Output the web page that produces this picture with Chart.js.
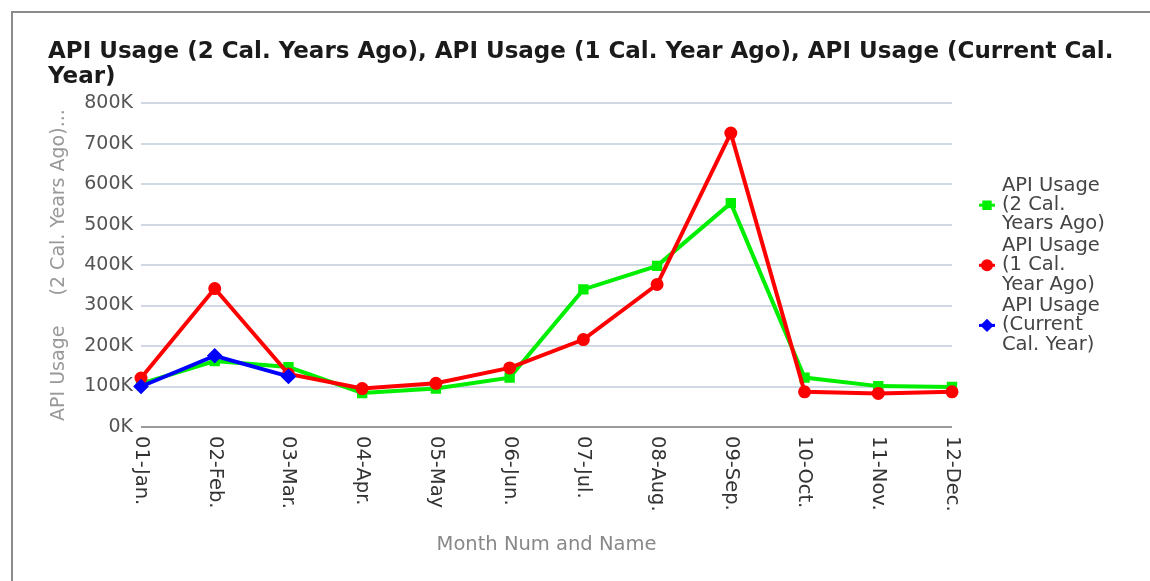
<!DOCTYPE html>
<html>
<head>
<meta charset="utf-8">
<title>API Usage</title>
<script src="https://cdn.jsdelivr.net/npm/chart.js@4.4.1/dist/chart.umd.min.js"></script>
<style>
  html, body { margin: 0; padding: 0; background: #fff; overflow: hidden; }
  #frame { position: absolute; left: 11px; top: 11px; width: 1200px; height: 640px; border: 2px solid #8c8c8c; }
  #wrap { position: absolute; left: 0; top: 0; width: 1150px; height: 581px; }
</style>
</head>
<body>
<div id="frame"></div>
<div id="wrap"><canvas id="chart"></canvas></div>
<script>
  // Data
  const months = ["01-Jan.", "02-Feb.", "03-Mar.", "04-Apr.", "05-May", "06-Jun.",
                  "07-Jul.", "08-Aug.", "09-Sep.", "10-Oct.", "11-Nov.", "12-Dec."];
  const usage2YearsAgo = [107000, 163000, 148000, 84000, 95000, 122000,
                          340000, 398000, 553000, 122000, 101000, 99000];
  const usage1YearAgo = [121000, 342000, 131000, 95000, 108000, 146000,
                         216000, 352000, 726000, 87000, 83000, 87000];
  const usageCurrent = [100000, 176000, 125000, null, null, null,
                        null, null, null, null, null, null];
  const yTicks = [0, 100000, 200000, 300000, 400000, 500000, 600000, 700000, 800000];

  const FONT = "'DejaVu Sans', sans-serif";

  // x labels read top to bottom (rotated clockwise), drawn under each tick
  const xLabelsPlugin = {
    id: "xLabels",
    afterDraw(chart) {
      const ctx = chart.ctx, xs = chart.scales.x;
      ctx.save();
      ctx.font = "19.5px " + FONT;
      ctx.fillStyle = "#333";
      ctx.textAlign = "left";
      ctx.textBaseline = "middle";
      months.forEach((m, i) => {
        ctx.save();
        ctx.translate(xs.getPixelForValue(i), chart.chartArea.bottom + 9);
        ctx.rotate(Math.PI / 2);
        ctx.fillText(m, 0, 0);
        ctx.restore();
      });
      ctx.restore();
    }
  };

  // Legend on the right with wrapped labels
  const sideLegend = {
    id: "sideLegend",
    afterDraw(chart) {
      const ctx = chart.ctx;
      const lineH = 19.2, maxW = 106, markX = 987, textX = 1002;
      let y = 186;
      ctx.save();
      ctx.font = "19.5px " + FONT;
      ctx.textBaseline = "middle";
      ctx.textAlign = "left";
      chart.data.datasets.forEach(ds => {
        const words = ds.label.split(" ");
        const lines = [];
        let cur = "";
        words.forEach(w => {
          const t = cur ? cur + " " + w : w;
          if (cur && ctx.measureText(t).width > maxW) { lines.push(cur); cur = w; }
          else cur = t;
        });
        if (cur) lines.push(cur);
        const midY = y + (lines.length - 1) * lineH / 2;
        ctx.strokeStyle = ds.borderColor;
        ctx.lineWidth = 3;
        ctx.beginPath();
        ctx.moveTo(markX - 8, midY);
        ctx.lineTo(markX + 8, midY);
        ctx.stroke();
        Chart.helpers.drawPoint(ctx, {
          pointStyle: ds.pointStyle, radius: 4.5, borderWidth: 1, rotation: 0
        }, markX, midY);
        ctx.fillStyle = ds.borderColor;
        ctx.fill();
        ctx.fillStyle = "#444";
        lines.forEach((l, i) => ctx.fillText(l, textX, y + i * lineH));
        y += lines.length * lineH + 2.5;
      });
      ctx.restore();
    }
  };

  const mk = (label, data, color, style, order) => ({
    label, data, order,
    borderColor: color, backgroundColor: color,
    pointBackgroundColor: color, pointBorderColor: color,
    borderWidth: 4, pointStyle: style, pointRadius: style === "rectRot" ? 5 : 4.5,
    pointHoverRadius: 5, tension: 0, spanGaps: false
  });

  new Chart(document.getElementById("chart").getContext("2d"), {
    type: "line",
    data: {
      labels: months,
      datasets: [
        mk("API Usage (2 Cal. Years Ago)", usage2YearsAgo, "#00ee00", "rect", 2),
        mk("API Usage (1 Cal. Year Ago)", usage1YearAgo, "#ff0000", "circle", 1),
        mk("API Usage (Current Cal. Year)", usageCurrent, "#0000ff", "rectRot", 0)
      ]
    },
    options: {
      responsive: true,
      maintainAspectRatio: false,
      animation: false,
      layout: { padding: { left: 48, right: 20, top: 0, bottom: 24 } },
      plugins: {
        legend: { display: false },
        tooltip: { enabled: false },
        title: {
          display: true,
          align: "start",
          text: ["API Usage (2 Cal. Years Ago), API Usage (1 Cal. Year Ago), API Usage (Current Cal.", "Year)"],
          color: "#1a1a1a",
          font: { family: FONT, size: 23, weight: "bold", lineHeight: 1.09 },
          padding: { top: 39, bottom: 14 }
        }
      },
      scales: {
        x: {
          offset: false,
          grid: { display: false },
          border: { display: false },
          ticks: { display: false },
          title: {
            display: true, text: "Month Num and Name", color: "#888",
            font: { family: FONT, size: 19.5 }, padding: { top: 0, bottom: 0 }
          },
          afterFit(scale) { scale.height = 130; }
        },
        y: {
          min: 0, max: 800000,
          afterBuildTicks(scale) { scale.ticks = yTicks.map(v => ({ value: v })); },
          grid: {
            drawTicks: false,
            color: ctx => ctx.index === 0 ? "#9a9a9a" : "#cfd8e3",
            lineWidth: 2
          },
          border: { display: false },
          ticks: {
            padding: 8, color: "#555",
            font: { family: FONT, size: 19 },
            callback: v => (v / 1000) + "K"
          },
          title: {
            display: true, text: "API Usage     (2 Cal. Years Ago)...", color: "#999",
            font: { family: FONT, size: 19 }, padding: { top: 0, bottom: 0 }
          },
          afterFit(scale) { scale.width = 93; }
        },
        // empty right-hand axis that keeps room for the legend
        yRoom: {
          position: "right",
          min: 0, max: 800000,
          grid: { display: false },
          border: { display: false },
          ticks: { display: false },
          afterFit(scale) { scale.width = 178; }
        }
      }
    },
    plugins: [xLabelsPlugin, sideLegend]
  });
</script>
</body>
</html>
